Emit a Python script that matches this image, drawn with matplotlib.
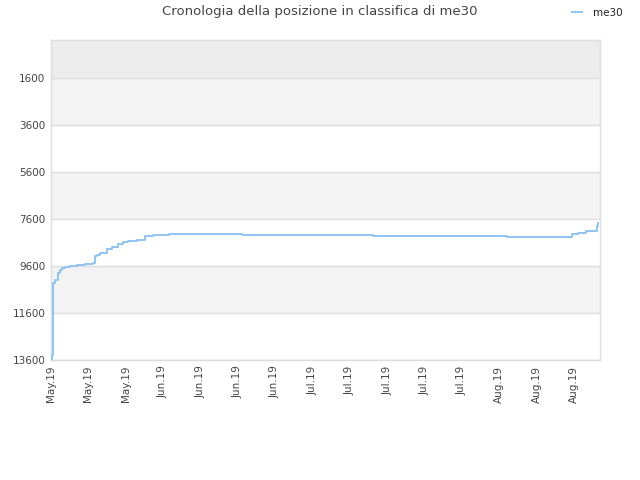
import matplotlib
matplotlib.use("Agg")
import matplotlib.pyplot as plt
import matplotlib.dates as mdates
import pandas as pd

# Data (rank position over time)
times = [
    "2019-05-13 00:00", "2019-05-13 05:00", "2019-05-13 10:00", "2019-05-13 18:00",
    "2019-05-14 07:00", "2019-05-14 17:00", "2019-05-15 02:00", "2019-05-15 14:00",
    "2019-05-16 14:00", "2019-05-17 22:00", "2019-05-19 10:00", "2019-05-20 22:00",
    "2019-05-21 07:00", "2019-05-21 14:00", "2019-05-22 05:00", "2019-05-23 12:00",
    "2019-05-24 10:00", "2019-05-25 14:00", "2019-05-26 12:00", "2019-05-27 10:00",
    "2019-05-29 02:00", "2019-05-30 14:00", "2019-06-01 02:00", "2019-06-04 02:00",
    "2019-06-17 19:00", "2019-07-12 10:00", "2019-08-06 10:00", "2019-08-18 17:00",
    "2019-08-19 17:00", "2019-08-21 05:00", "2019-08-23 10:00", "2019-08-23 14:00",
]
positions = [
    13600, 13400, 10330, 10200,
    9900, 9775, 9690, 9650,
    9590, 9550, 9510, 9480,
    9180, 9125, 9050, 8880,
    8785, 8670, 8585, 8540,
    8490, 8320, 8275, 8230,
    8275, 8320, 8370, 8245,
    8190, 8130, 7900, 7780,
]
series_name = "me30"
title = "Cronologia della posizione in classifica di me30"
y_ticks = [1600, 3600, 5600, 7600, 9600, 11600, 13600]
x_tick_start = "2019-05-13"
x_tick_count = 15

dates = pd.to_datetime(times)

fig = plt.figure(figsize=(6.4, 4.8), dpi=100)
ax = fig.add_axes([51/640, 1-360/480, (600-51)/640, 320/480])

# background bands
band_edges = [0] + y_ticks
band_colors = ["#ececec", "#f3f3f3", "#ffffff", "#f3f3f3", "#ffffff", "#f3f3f3", "#ffffff"]
for i in range(len(band_edges) - 1):
    ax.axhspan(band_edges[i], band_edges[i + 1], color=band_colors[i], zorder=0, lw=0)

ax.plot(dates, positions, drawstyle="steps-post", color="#90c4f4", lw=1.4,
        label=series_name, zorder=3)

ax.set_ylim(13600, 0)
ax.set_xlim(dates[0], dates[-1] + pd.Timedelta(hours=8))
ax.set_yticks(y_ticks)
ax.set_yticklabels([str(v) for v in y_ticks])
ax.grid(axis="y", color="#dddddd", lw=1, zorder=1)
ax.set_axisbelow(True)

xt = pd.date_range(x_tick_start, periods=x_tick_count, freq="7D")
ax.set_xticks(xt)
ax.xaxis.set_major_formatter(mdates.DateFormatter("%b.%y"))
for lab in ax.get_xticklabels():
    lab.set_rotation(90)

ax.tick_params(axis="both", length=0, labelsize=7.5, labelcolor="#444444", pad=4)
for s in ax.spines.values():
    s.set_color("#dddddd")
    s.set_linewidth(1)

fig.text(0.5, 1 - 12/480, title, ha="center", va="center", fontsize=9.5, color="#444444")
leg = fig.legend(loc="center", bbox_to_anchor=(597/640, 1 - 13/480), frameon=False,
                 fontsize=7.5, handlelength=1.0, handletextpad=1.0)
for t in leg.get_texts():
    t.set_color("#222222")

fig.savefig("out.png", dpi=100)
